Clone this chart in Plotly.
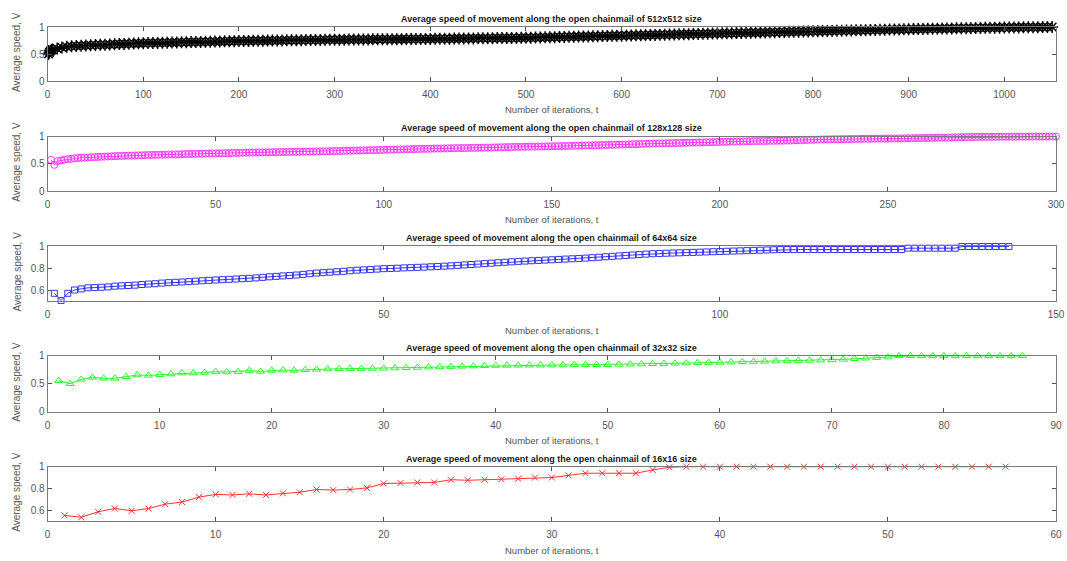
import plotly.graph_objects as go

# ---------------- data ----------------
titles = [
    "Average speed of movement along the open chainmail of 512x512 size",
    "Average speed of movement along the open chainmail of 128x128 size",
    "Average speed of movement along the open chainmail of 64x64 size",
    "Average speed of movement along the open chainmail of 32x32 size",
    "Average speed of movement along the open chainmail of 16x16 size",
]
x_label = "Number of iterations, t"
y_label = "Average speed, V"

# 512x512 (sampled every 5 iterations after the first four)
t512 = [1, 2, 3, 4] + list(range(5, 1051, 5))
v512 = [
    0.500, 0.530, 0.555, 0.575,
    0.585, 0.600, 0.620, 0.633, 0.642, 0.648, 0.653, 0.658, 0.662, 0.667,
    0.670, 0.673, 0.677, 0.680, 0.683, 0.687, 0.690, 0.693, 0.697, 0.700,
    0.702, 0.704, 0.706, 0.708, 0.710, 0.712, 0.714, 0.716, 0.718, 0.720,
    0.722, 0.724, 0.726, 0.728, 0.730, 0.732, 0.734, 0.736, 0.738, 0.740,
    0.741, 0.743, 0.744, 0.745, 0.746, 0.748, 0.749, 0.750, 0.751, 0.753,
    0.754, 0.755, 0.756, 0.758, 0.759, 0.760, 0.761, 0.763, 0.764, 0.765,
    0.766, 0.766, 0.767, 0.768, 0.769, 0.769, 0.770, 0.771, 0.772, 0.772,
    0.773, 0.774, 0.775, 0.775, 0.776, 0.777, 0.778, 0.778, 0.779, 0.780,
    0.781, 0.782, 0.783, 0.784, 0.785, 0.786, 0.787, 0.788, 0.789, 0.790,
    0.791, 0.792, 0.793, 0.794, 0.795, 0.796, 0.797, 0.798, 0.799, 0.800,
    0.802, 0.804, 0.806, 0.808, 0.810, 0.812, 0.814, 0.816, 0.818, 0.820,
    0.822, 0.824, 0.826, 0.828, 0.830, 0.832, 0.834, 0.836, 0.838, 0.840,
    0.842, 0.844, 0.846, 0.848, 0.850, 0.852, 0.854, 0.856, 0.858, 0.860,
    0.862, 0.864, 0.866, 0.868, 0.870, 0.872, 0.874, 0.876, 0.878, 0.880,
    0.882, 0.884, 0.886, 0.888, 0.890, 0.892, 0.894, 0.896, 0.898, 0.900,
    0.902, 0.904, 0.906, 0.908, 0.910, 0.912, 0.914, 0.916, 0.918, 0.920,
    0.922, 0.924, 0.926, 0.928, 0.930, 0.932, 0.934, 0.936, 0.938, 0.940,
    0.942, 0.944, 0.946, 0.948, 0.950, 0.952, 0.954, 0.956, 0.958, 0.960,
    0.961, 0.963, 0.964, 0.966, 0.967, 0.969, 0.970, 0.972, 0.973, 0.975,
    0.976, 0.978, 0.979, 0.981, 0.982, 0.984, 0.985, 0.987, 0.988, 0.990,
    0.991, 0.992, 0.993, 0.994, 0.995, 0.996, 0.997, 0.998, 0.999, 1.000,
]

# 128x128
t128 = list(range(1, 301))
v128 = [
    0.570, 0.480, 0.550, 0.560, 0.575, 0.585, 0.590, 0.600, 0.605, 0.610,
    0.613, 0.616, 0.619, 0.622, 0.625, 0.628, 0.631, 0.634, 0.637, 0.640,
    0.642, 0.644, 0.646, 0.648, 0.650, 0.652, 0.654, 0.656, 0.658, 0.660,
    0.662, 0.663, 0.665, 0.666, 0.668, 0.669, 0.671, 0.672, 0.674, 0.675,
    0.677, 0.678, 0.680, 0.681, 0.683, 0.684, 0.686, 0.687, 0.689, 0.690,
    0.692, 0.693, 0.695, 0.696, 0.698, 0.699, 0.701, 0.702, 0.704, 0.705,
    0.706, 0.707, 0.708, 0.709, 0.710, 0.711, 0.712, 0.713, 0.714, 0.715,
    0.716, 0.717, 0.718, 0.719, 0.720, 0.721, 0.722, 0.723, 0.724, 0.725,
    0.726, 0.728, 0.729, 0.731, 0.732, 0.734, 0.735, 0.737, 0.738, 0.740,
    0.741, 0.743, 0.744, 0.746, 0.747, 0.749, 0.750, 0.752, 0.753, 0.755,
    0.756, 0.758, 0.759, 0.761, 0.762, 0.764, 0.765, 0.767, 0.768, 0.770,
    0.771, 0.773, 0.774, 0.776, 0.777, 0.779, 0.780, 0.782, 0.783, 0.785,
    0.786, 0.787, 0.788, 0.789, 0.790, 0.791, 0.792, 0.793, 0.794, 0.795,
    0.797, 0.798, 0.800, 0.801, 0.803, 0.804, 0.806, 0.807, 0.809, 0.810,
    0.811, 0.812, 0.813, 0.814, 0.815, 0.816, 0.817, 0.818, 0.819, 0.820,
    0.822, 0.823, 0.825, 0.826, 0.828, 0.829, 0.831, 0.832, 0.834, 0.835,
    0.837, 0.838, 0.840, 0.841, 0.843, 0.844, 0.846, 0.847, 0.849, 0.850,
    0.852, 0.854, 0.856, 0.858, 0.860, 0.862, 0.864, 0.866, 0.868, 0.870,
    0.871, 0.873, 0.874, 0.876, 0.877, 0.879, 0.880, 0.882, 0.883, 0.885,
    0.886, 0.888, 0.889, 0.891, 0.892, 0.894, 0.895, 0.897, 0.898, 0.900,
    0.902, 0.903, 0.905, 0.906, 0.908, 0.909, 0.911, 0.912, 0.914, 0.915,
    0.916, 0.917, 0.918, 0.919, 0.920, 0.921, 0.922, 0.923, 0.924, 0.925,
    0.927, 0.929, 0.931, 0.933, 0.935, 0.937, 0.939, 0.941, 0.943, 0.945,
    0.946, 0.947, 0.948, 0.949, 0.950, 0.951, 0.952, 0.953, 0.954, 0.955,
    0.956, 0.957, 0.958, 0.958, 0.959, 0.960, 0.960, 0.961, 0.962, 0.962,
    0.963, 0.964, 0.965, 0.966, 0.967, 0.968, 0.969, 0.970, 0.971, 0.972,
    0.973, 0.974, 0.975, 0.976, 0.977, 0.978, 0.979, 0.980, 0.982, 0.984,
    0.986, 0.988, 0.989, 0.990, 0.991, 0.992, 0.992, 0.993, 0.993, 0.994,
    0.994, 0.995, 0.995, 0.996, 0.996, 0.997, 0.997, 0.997, 0.998, 0.998,
    0.998, 0.998, 0.999, 0.999, 0.999, 0.999, 1.000, 1.000, 1.000, 1.000,
]

# 64x64
t64 = list(range(1, 144))
v64 = [
    0.570, 0.505, 0.570, 0.600, 0.610, 0.620, 0.622, 0.625, 0.628, 0.635,
    0.638, 0.641, 0.644, 0.650, 0.654, 0.657, 0.663, 0.667, 0.670, 0.673,
    0.676, 0.680, 0.684, 0.688, 0.691, 0.694, 0.697, 0.700, 0.703, 0.706,
    0.710, 0.715, 0.720, 0.724, 0.728, 0.732, 0.736, 0.742, 0.748, 0.754,
    0.758, 0.762, 0.766, 0.770, 0.775, 0.780, 0.783, 0.786, 0.790, 0.794,
    0.796, 0.798, 0.801, 0.803, 0.806, 0.808, 0.811, 0.814, 0.817, 0.820,
    0.824, 0.828, 0.832, 0.836, 0.840, 0.844, 0.848, 0.852, 0.856, 0.860,
    0.863, 0.866, 0.869, 0.872, 0.875, 0.878, 0.881, 0.884, 0.887, 0.890,
    0.894, 0.898, 0.902, 0.906, 0.910, 0.914, 0.918, 0.922, 0.926, 0.930,
    0.932, 0.934, 0.936, 0.938, 0.940, 0.942, 0.944, 0.946, 0.948, 0.950,
    0.952, 0.954, 0.956, 0.958, 0.960, 0.962, 0.964, 0.966, 0.968, 0.968,
    0.968, 0.968, 0.968, 0.968, 0.968, 0.968, 0.968, 0.968, 0.968, 0.968,
    0.968, 0.968, 0.968, 0.968, 0.968, 0.968, 0.968, 0.980, 0.980, 0.980,
    0.980, 0.980, 0.980, 0.980, 0.980, 0.995, 0.995, 0.995, 0.995, 0.995,
    0.995, 0.995, 0.995,
]

# 32x32
t32 = list(range(1, 88))
v32 = [
    0.554, 0.500, 0.578, 0.614, 0.596, 0.596, 0.625, 0.655, 0.649, 0.661,
    0.673, 0.690, 0.690, 0.700, 0.715, 0.710, 0.715, 0.733, 0.720, 0.738,
    0.744, 0.738, 0.750, 0.756, 0.762, 0.766, 0.770, 0.770, 0.772, 0.775,
    0.780, 0.785, 0.790, 0.795, 0.800, 0.805, 0.810, 0.815, 0.820, 0.825,
    0.826, 0.828, 0.830, 0.831, 0.833, 0.834, 0.836, 0.837, 0.839, 0.840,
    0.844, 0.848, 0.852, 0.856, 0.860, 0.864, 0.868, 0.872, 0.876, 0.880,
    0.885, 0.890, 0.894, 0.899, 0.903, 0.908, 0.912, 0.916, 0.920, 0.925,
    0.935, 0.945, 0.955, 0.965, 0.975, 0.997, 0.997, 0.997, 0.997, 0.997,
    0.997, 0.997, 0.997, 0.997, 0.997, 0.997, 0.997,
]

# 16x16
t16 = list(range(1, 58))
v16 = [
    0.552, 0.534, 0.585, 0.615, 0.594, 0.615, 0.655, 0.675, 0.720, 0.745,
    0.740, 0.750, 0.740, 0.755, 0.765, 0.790, 0.785, 0.790, 0.805, 0.845,
    0.850, 0.855, 0.855, 0.880, 0.875, 0.880, 0.885, 0.890, 0.900, 0.900,
    0.920, 0.940, 0.940, 0.940, 0.940, 0.970, 0.995, 1.000, 1.000, 1.000,
    1.000, 1.000, 1.000, 1.000, 1.000, 1.000, 1.000, 1.000, 1.000, 1.000,
    1.000, 1.000, 1.000, 1.000, 1.000, 1.000, 1.000,
]

x_ranges = [[0, 1054], [0, 300], [0, 150], [0, 90], [0, 60]]
x_dticks = [100, 50, 50, 10, 10]
y_ranges = [[0, 1], [0, 1], [0.5, 1], [0, 1], [0.5, 1]]
y_ticks = [[0, 0.5, 1], [0, 0.5, 1], [0.6, 0.8, 1], [0, 0.5, 1], [0.6, 0.8, 1]]

# ---------------- styling ----------------
W, H = 1067, 561
FONT = "Liberation Sans, Arial, sans-serif"
series = [
    (t512, v512, "#000000", "asterisk-open", 10, 1.0, 1.5),
    (t128, v128, "#FF00FF", "circle-open", 7, 0.8, 1.0),
    (t64, v64, "#0000FF", "square-open", 6, 0.8, 1.0),
    (t32, v32, "#00FF00", "triangle-up-open", 7, 0.85, 1.0),
    (t16, v16, "#FF0000", "x-thin-open", 6, 0.8, 1.0),
]
# plot boxes in pixels (top, bottom)
boxes = [(27, 81), (136.5, 191), (246, 301), (355.7, 411.7), (466.7, 521)]
X0, X1 = 47.6, 1056

fig = go.Figure()
annotations = []
layout = dict(
    width=W, height=H, margin=dict(l=0, r=0, t=0, b=0, autoexpand=False),
    paper_bgcolor="white", plot_bgcolor="white", showlegend=False,
    font=dict(family=FONT, size=10, color="#555555"),
)

for i, (t, v, col, sym, sz, op, mlw) in enumerate(series):
    k = "" if i == 0 else str(i + 1)
    top, bot = boxes[i]
    fig.add_trace(go.Scatter(
        x=t, y=v, mode="lines+markers", xaxis="x" + k, yaxis="y" + k,
        line=dict(color=col, width=1),
        marker=dict(symbol=sym, size=sz, color=col, line=dict(color=col, width=mlw)),
        opacity=op, cliponaxis=False,
    ))
    common = dict(showline=True, linecolor="#7a7a7a", linewidth=1, mirror="ticks",
                  ticks="inside", ticklen=4, tickcolor="#555555", tickwidth=1,
                  showgrid=False, zeroline=False, automargin=False,
                  ticklabeloverflow="allow",
                  tickfont=dict(family=FONT, size=10, color="#555555"))
    layout["xaxis" + k] = dict(
        domain=[X0 / W, X1 / W], anchor="y" + k, range=x_ranges[i],
        tick0=0, dtick=x_dticks[i], ticklabelstandoff=4, **common)
    layout["yaxis" + k] = dict(
        domain=[1 - bot / H, 1 - top / H], anchor="x" + k, range=y_ranges[i],
        tickvals=y_ticks[i], ticktext=[("%g" % tv) for tv in y_ticks[i]], **common)
    xc = (X0 + X1) / 2
    annotations.append(dict(
        text="<b>" + titles[i] + "</b>", x=xc / W, y=1 - (top - 8) / H,
        xref="paper", yref="paper", showarrow=False, xanchor="center", yanchor="middle",
        font=dict(family=FONT, size=9, color="#1a1a1a")))
    annotations.append(dict(
        text=x_label, x=xc / W, y=1 - (bot + 29) / H,
        xref="paper", yref="paper", showarrow=False, xanchor="center", yanchor="middle",
        font=dict(family=FONT, size=9.5, color="#555555")))
    annotations.append(dict(
        text=y_label, x=17 / W, y=1 - ((top + bot) / 2 - 2) / H, textangle=-90,
        xref="paper", yref="paper", showarrow=False, xanchor="center", yanchor="middle",
        font=dict(family=FONT, size=10, color="#555555")))

layout["annotations"] = annotations
fig.update_layout(**layout)
# remove the browser's default 8px page margin so the 1067x561 figure fills the window
fig.write_html(
    "out.html",
    config={"displayModeBar": False, "staticPlot": True},
    post_script="document.body.style.margin='0';document.body.style.overflow='hidden';",
)
